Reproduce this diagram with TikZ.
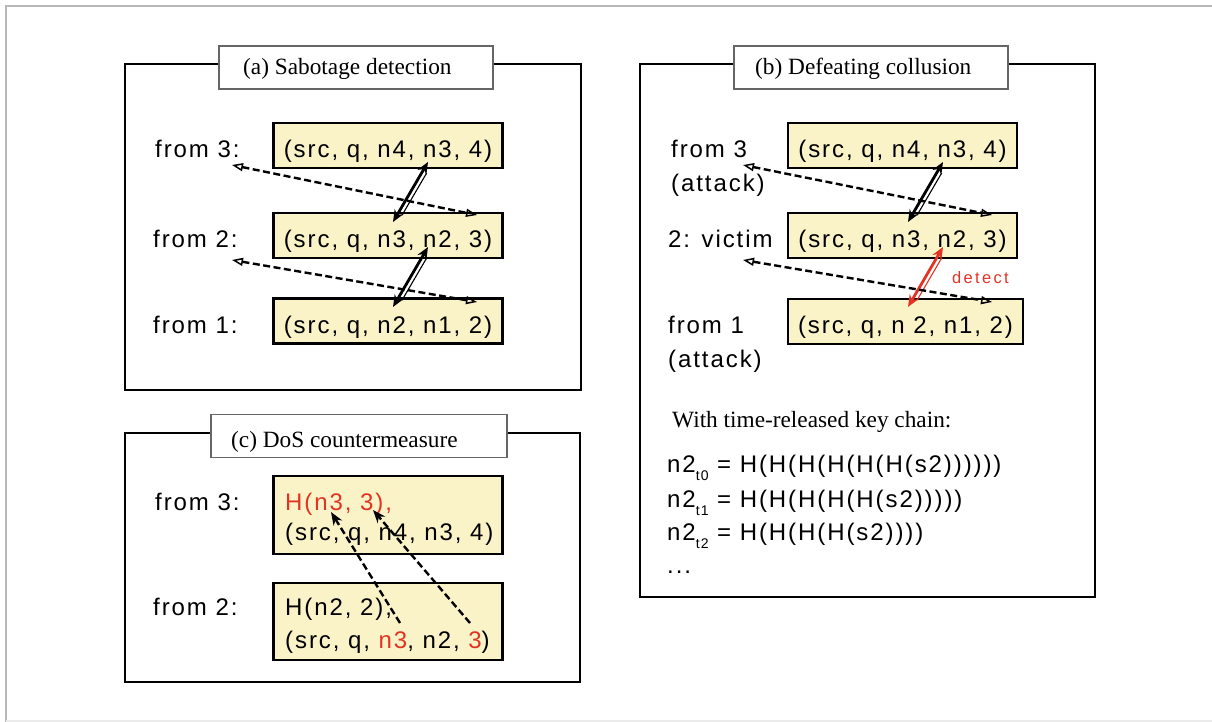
\documentclass[tikz,border=0pt]{standalone}
\usepackage{fontspec}
\setmainfont{Liberation Serif}
\newfontfamily\hv[LetterSpace=8]{Liberation Sans}
\newfontfamily\hvs[LetterSpace=14]{Liberation Sans}
\usetikzlibrary{arrows.meta,calc}
\definecolor{boxyellow}{RGB}{250,243,200}
\definecolor{myred}{RGB}{226,52,36}
\newcommand\subt[1]{\raisebox{-8pt}{\fontsize{14}{14}\selectfont #1}}
\newcommand\dbarr[3]{%
  \draw[dblarrow,#3] (#1) -- (#2);
  \draw[line width=1.1pt,#3] ($(#1)!0.15!(#2)+(3.8,2.2)$) -- ($(#1)!0.85!(#2)+(3.8,2.2)$);}
\tikzset{
  frame/.style={draw=black, line width=2.4pt},
  titlebox/.style={draw=black!60, line width=1.5pt, fill=white, minimum height=43pt, inner sep=0pt},
  ttext/.style={anchor=base west, inner sep=0pt, font=\fontsize{23.3}{28}\selectfont},
  msgbox/.style={draw=black, line width=2.4pt, fill=boxyellow, minimum width=229pt, minimum height=45pt, inner sep=0pt, text height=24pt, text depth=0pt, font=\hv\fontsize{24}{28}\selectfont},
  lbl/.style={anchor=base west, inner sep=0pt, font=\hv\fontsize{24}{28}\selectfont},
  dasharrow/.style={dash pattern=on 7pt off 3.5pt, line width=2.4pt,
    {Triangle[open,length=11pt,width=8pt,line width=1.5pt]}-{Triangle[open,length=11pt,width=8pt,line width=1.5pt]}},
  dashone/.style={dash pattern=on 7pt off 3.5pt, line width=2.4pt, -{Stealth[length=13pt,width=10pt]}},
  dblarrow/.style={line width=2.8pt, {Stealth[length=12pt,width=10pt]}-{Stealth[length=12pt,width=10pt]}}
}
\begin{document}
\begin{tikzpicture}[x=1pt,y=-1pt]
\useasboundingbox (0,0) rectangle (1212,722);
\draw[black!28, line width=2pt] (6,722) -- (6,6) -- (1212,6);
\draw[black!8, line width=1.5pt] (6,721) -- (1212,721);

% ---------- (a) ----------
\draw[frame] (125,64) rectangle (581,390);
\node[titlebox, minimum width=274pt] (ta) at (356,67.5) {};
\node[ttext] (tat) at (243,75) {(a) Sabotage detection};
\node[msgbox] (a1) at (388,145.5) {(src, q, n4, n3, 4)};
\node[msgbox] (a2) at (388,235.5) {(src, q, n3, n2, 3)};
\node[msgbox] (a3) at (388,321) {(src, q, n2, n1, 2)};
\node[lbl] (la3) at (155,158) {from 3:};
\node[lbl] (la2) at (153,247) {from 2:};
\node[lbl] (la1) at (153,333) {from 1:};
\coordinate (a1s) at (428,162);
\coordinate (a2n) at (393,222);
\coordinate (a2s) at (428,247);
\coordinate (a3n) at (393,307);
\dbarr{a1s}{a2n}{black}
\dbarr{a2s}{a3n}{black}
\coordinate (la3e) at (232,165);
\coordinate (a2e) at (477,215);
\coordinate (la2e) at (232,260);
\coordinate (a3e) at (477,302);
\draw[dasharrow] (la3e) -- (a2e);
\draw[dasharrow] (la2e) -- (a3e);

% ---------- (b) ----------
\draw[frame] (640,64) rectangle (1095,597);
\node[titlebox, minimum width=274pt] (tb) at (871,67.5) {};
\node[ttext] (tbt) at (755,75) {(b) Defeating collusion};
\node[msgbox] (b1) at (902.5,145.5) {(src, q, n4, n3, 4)};
\node[msgbox] (b2) at (902.5,235.5) {(src, q, n3, n2, 3)};
\node[msgbox, minimum width=235pt] (b3) at (905.5,321.5) {(src, q, n 2, n1, 2)};
\node[lbl] (lb3) at (671,158) {from 3};
\node[lbl] (lb3a) at (671,192) {(attack)};
\node[lbl] (lb2) at (668,247) {2: victim};
\node[lbl] (lb1) at (668,333) {from 1};
\node[lbl] (lb1a) at (668,367) {(attack)};
\coordinate (b1s) at (943,162);
\coordinate (b2n) at (908,222);
\coordinate (b2s) at (943,247);
\coordinate (b3n) at (908,307);
\dbarr{b1s}{b2n}{black}
\dbarr{b2s}{b3n}{myred}
\node[anchor=base west, inner sep=0pt, text=myred, font=\hvs\fontsize{16.5}{18}\selectfont] (det) at (952,283) {detect};
\coordinate (lb3e) at (743,165);
\coordinate (b2e) at (992,215);
\coordinate (lb2e) at (743,260);
\coordinate (b3e) at (992,302);
\draw[dasharrow] (lb3e) -- (b2e);
\draw[dasharrow] (lb2e) -- (b3e);
\node[ttext] (kc) at (672,427) {With time-released key chain:};
\node[lbl] (k0) at (667,472) {n2\subt{t0} = H(H(H(H(H(H(s2))))))};
\node[lbl] (k1) at (667,507) {n2\subt{t1} = H(H(H(H(H(s2)))))};
\node[lbl] (k2) at (667,540) {n2\subt{t2} = H(H(H(H(s2))))};
\node[lbl] (k3) at (667,573) {...};

% ---------- (c) ----------
\draw[frame] (125,433) rectangle (580,682);
\node[titlebox, minimum width=296pt] (tc) at (359,436) {};
\node[ttext] (tct) at (231,447) {(c) DoS countermeasure};
\node[msgbox, minimum height=78pt] (c1) at (388,515) {};
\node[msgbox, minimum height=77pt] (c2) at (388,621.5) {};
\node[lbl, text=myred] (c1a) at (285,510) {H(n3, 3),};
\node[lbl] (c1b) at (285,540) {(src, q, n4, n3, 4)};
\node[lbl] (c2a) at (285,615) {H(n2, 2),};
\node[lbl] (c2b) at (285,648) {(src, q, \textcolor{myred}{n3}, n2, \textcolor{myred}{3})};
\node[lbl] (lc3) at (155,510) {from 3:};
\node[lbl] (lc2) at (153,615) {from 2:};
\coordinate (c2n3) at (400,623);
\coordinate (c1n3) at (331,512);
\coordinate (c2th) at (470,623);
\coordinate (c1th) at (373,510);
\draw[dashone] (c2n3) -- (c1n3);
\draw[dashone] (c2th) -- (c1th);
\end{tikzpicture}
\end{document}
